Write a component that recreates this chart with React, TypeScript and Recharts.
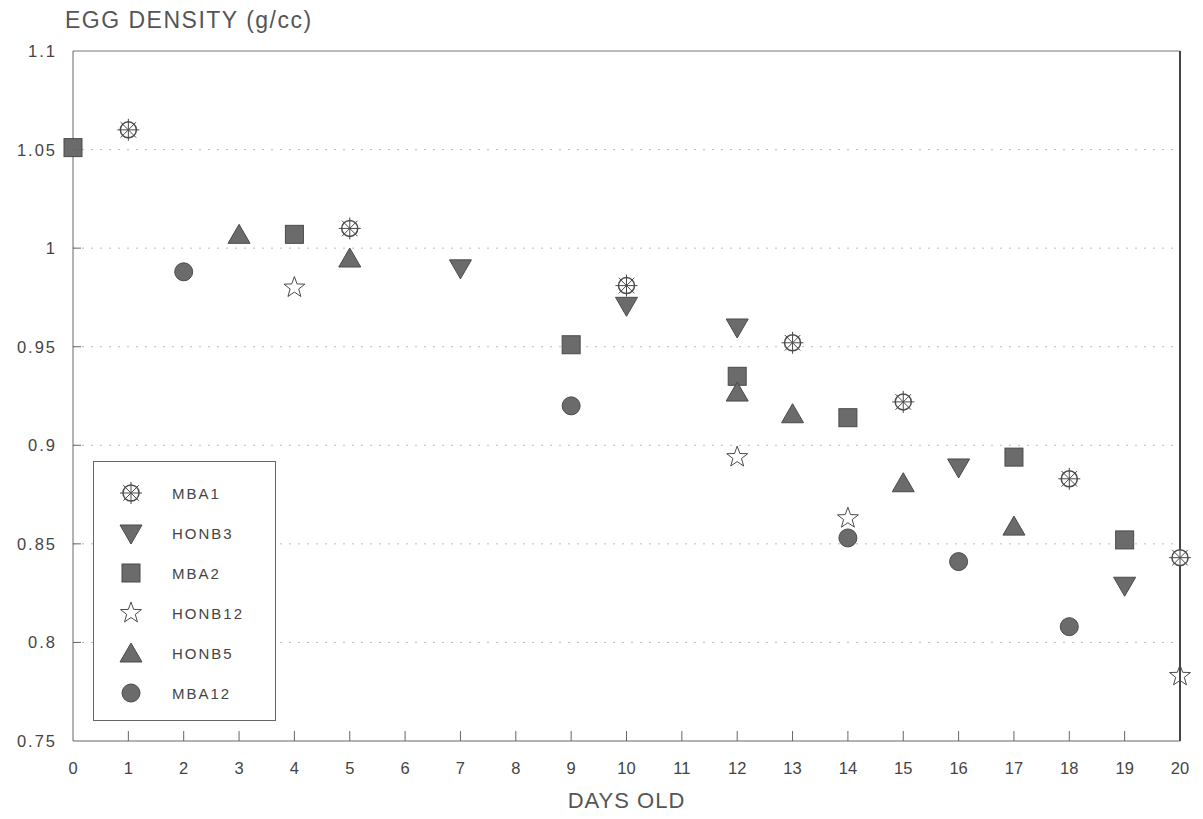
import React from 'react';
import { ScatterChart, Scatter, XAxis, YAxis, CartesianGrid, ReferenceLine } from 'recharts';

// values
const mba1Days = [1, 5, 10, 13, 15, 18, 20];
const mba1Vals = [1.06, 1.01, 0.981, 0.952, 0.922, 0.883, 0.843];

const honb3Days = [7, 10, 12, 16, 19];
const honb3Vals = [0.99, 0.971, 0.96, 0.889, 0.829];

const mba2Days = [0, 4, 9, 12, 14, 17, 19];
const mba2Vals = [1.051, 1.007, 0.951, 0.935, 0.914, 0.894, 0.852];

const honb12Days = [4, 12, 14, 20];
const honb12Vals = [0.98, 0.894, 0.863, 0.783];

const honb5Days = [3, 5, 12, 13, 15, 17];
const honb5Vals = [1.007, 0.995, 0.927, 0.916, 0.881, 0.859];

const mba12Days = [2, 9, 14, 16, 18];
const mba12Vals = [0.988, 0.92, 0.853, 0.841, 0.808];

const xTicks = [0, 1, 2, 3, 4, 5, 6, 7, 8, 9, 10, 11, 12, 13, 14, 15, 16, 17, 18, 19, 20];
const yTicks = [0.75, 0.8, 0.85, 0.9, 0.95, 1, 1.05, 1.1];

const FONT = '"Liberation Sans", Arial, sans-serif';
const FILL = '#6b6b6b';
const EDGE = '#4a4a4a';

const toPoints = (days: number[], vals: number[]) => days.map((d, i) => ({ x: d, y: vals[i] }));

type Kind = 'wheel' | 'down' | 'square' | 'star' | 'up' | 'circle';

const Marker = ({ kind, cx, cy }: { kind: Kind; cx: number; cy: number }) => {
    if (kind === 'wheel') {
        const spokes = [];
        for (let i = 0; i < 8; i++) {
            const a = (i * Math.PI) / 4;
            spokes.push(
                <line key={i} x1={cx} y1={cy} x2={cx + Math.cos(a) * 11} y2={cy + Math.sin(a) * 11} stroke={EDGE} strokeWidth={1} />
            );
        }
        return (
            <g>
                <circle cx={cx} cy={cy} r={8} fill="#fff" stroke={EDGE} strokeWidth={1.5} />
                {spokes}
            </g>
        );
    }
    if (kind === 'down') {
        return <polygon points={`${cx - 11},${cy - 8} ${cx + 11},${cy - 8} ${cx},${cy + 11}`} fill={FILL} stroke={EDGE} strokeWidth={1} />;
    }
    if (kind === 'up') {
        return <polygon points={`${cx - 11},${cy + 9} ${cx + 11},${cy + 9} ${cx},${cy - 10}`} fill={FILL} stroke={EDGE} strokeWidth={1} />;
    }
    if (kind === 'square') {
        return <rect x={cx - 9} y={cy - 9} width={18} height={18} fill={FILL} stroke={EDGE} strokeWidth={1} />;
    }
    if (kind === 'circle') {
        return <circle cx={cx} cy={cy} r={9} fill={FILL} stroke={EDGE} strokeWidth={1} />;
    }
    // star
    const pts = [];
    for (let i = 0; i < 10; i++) {
        const r = i % 2 === 0 ? 11 : 4.5;
        const a = -Math.PI / 2 + (i * Math.PI) / 5;
        pts.push(`${cx + Math.cos(a) * r},${cy + Math.sin(a) * r}`);
    }
    return <polygon points={pts.join(' ')} fill="none" stroke={EDGE} strokeWidth={1} />;
};

const seriesList: { name: string; kind: Kind; data: { x: number; y: number }[] }[] = [
    { name: 'MBA1', kind: 'wheel', data: toPoints(mba1Days, mba1Vals) },
    { name: 'HONB3', kind: 'down', data: toPoints(honb3Days, honb3Vals) },
    { name: 'MBA2', kind: 'square', data: toPoints(mba2Days, mba2Vals) },
    { name: 'HONB12', kind: 'star', data: toPoints(honb12Days, honb12Vals) },
    { name: 'HONB5', kind: 'up', data: toPoints(honb5Days, honb5Vals) },
    { name: 'MBA12', kind: 'circle', data: toPoints(mba12Days, mba12Vals) },
];

const XTick = (props: any) => {
    const { x, y, payload } = props;
    return (
        <g>
            {payload.value > 0 && payload.value < 20 && <line x1={x} y1={y} x2={x} y2={y - 10} stroke="#666" />}
            <text x={x} y={y + 33} textAnchor="middle" fontSize={16.5} fill="#444" fontFamily={FONT}>
                {payload.value}
            </text>
        </g>
    );
};

const YTick = (props: any) => {
    const { x, y, payload } = props;
    return (
        <g>
            {payload.value > 0.75 && payload.value < 1.1 && <line x1={x} y1={y} x2={x + 8} y2={y} stroke="#666" />}
            <text x={x - 16} y={y + 6} textAnchor="end" fontSize={16.5} fill="#444" fontFamily={FONT} letterSpacing={2}>
                {payload.value}
            </text>
        </g>
    );
};

const LegendBox = () => (
    <div style={{ position: 'absolute', left: 93, top: 461, width: 183, height: 260, border: '1px solid #666', boxSizing: 'border-box', background: '#fff', paddingTop: 11 }}>
        {seriesList.map(s => (
            <div key={s.name} style={{ display: 'flex', alignItems: 'center', height: 40 }}>
                <svg width={30} height={30} style={{ marginLeft: 22 }}>
                    <Marker kind={s.kind} cx={15} cy={15} />
                </svg>
                <span style={{ marginLeft: 26, fontFamily: FONT, fontSize: 15, color: '#444', letterSpacing: 2 }}>{s.name}</span>
            </div>
        ))}
    </div>
);

export default function App() {
    return (
        <div style={{ position: 'absolute', left: 0, top: 0, width: 1203, height: 819, background: '#fff' }}>
            <div style={{ position: 'absolute', left: 65, top: 7, fontFamily: FONT, fontSize: 23, color: '#555', letterSpacing: 1.5 }}>
                EGG DENSITY (g/cc)
            </div>
            <div style={{ position: 'absolute', left: 0, width: 1203, top: 788, textAlign: 'center', paddingLeft: 50, boxSizing: 'border-box', fontFamily: FONT, fontSize: 22, color: '#555', letterSpacing: 1 }}>
                DAYS OLD
            </div>
            <ScatterChart width={1203} height={819} margin={{ top: 51, right: 23, left: 0, bottom: 0 }}>
                <CartesianGrid vertical={false} stroke="#bbb" strokeDasharray="2 7" horizontalValues={[0.8, 0.85, 0.9, 0.95, 1, 1.05]} />
                <XAxis
                    type="number"
                    dataKey="x"
                    domain={[0, 20]}
                    ticks={xTicks}
                    interval={0}
                    height={78}
                    tickSize={0}
                    tickMargin={0}
                    tickLine={false}
                    axisLine={{ stroke: '#666' }}
                    tick={<XTick />}
                />
                <YAxis
                    type="number"
                    dataKey="y"
                    domain={[0.75, 1.1]}
                    ticks={yTicks}
                    interval={0}
                    width={73}
                    tickSize={0}
                    tickMargin={0}
                    tickLine={false}
                    axisLine={{ stroke: '#666' }}
                    tick={<YTick />}
                />
                <ReferenceLine y={1.1} stroke="#777" strokeWidth={1} />
                <ReferenceLine x={20} stroke="#444" strokeWidth={2} />
                {seriesList.map(s => (
                    <Scatter
                        key={s.name}
                        name={s.name}
                        data={s.data}
                        isAnimationActive={false}
                        shape={(p: any) => <Marker kind={s.kind} cx={p.cx} cy={p.cy} />}
                    />
                ))}
            </ScatterChart>
            <LegendBox />
        </div>
    );
}
